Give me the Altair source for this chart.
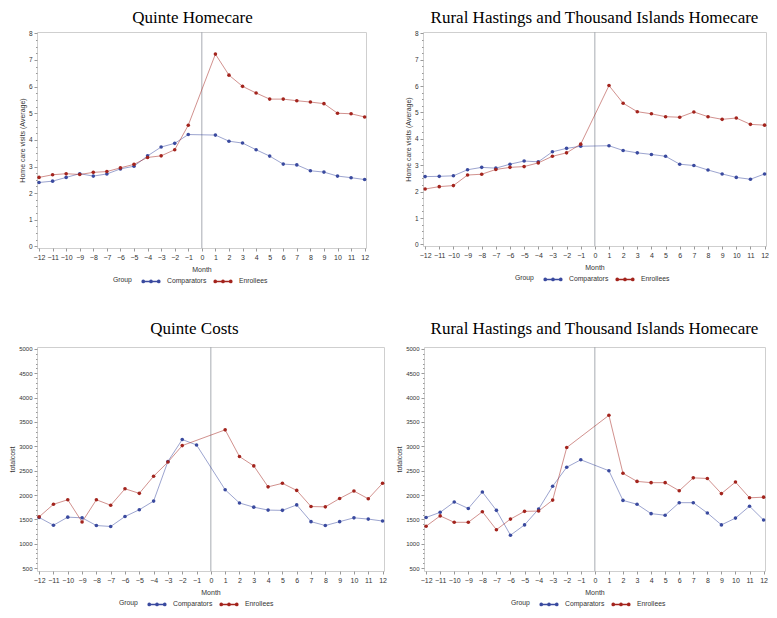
import altair as alt
import pandas as pd

MONTHS = [-12, -11, -10, -9, -8, -7, -6, -5, -4, -3, -2, -1,
          1, 2, 3, 4, 5, 6, 7, 8, 9, 10, 11, 12]
GROUPS = ["Comparators", "Enrollees"]

QH_COMP = [2.40, 2.45, 2.59, 2.73, 2.64, 2.72, 2.91, 3.01, 3.40, 3.73, 3.87, 4.20,
           4.18, 3.95, 3.88, 3.63, 3.39, 3.09, 3.06, 2.84, 2.79, 2.64, 2.58, 2.51]
QH_ENR = [2.59, 2.69, 2.73, 2.70, 2.78, 2.81, 2.95, 3.08, 3.34, 3.40, 3.63, 4.55,
          7.22, 6.43, 6.01, 5.76, 5.53, 5.53, 5.47, 5.42, 5.36, 5.00, 4.98, 4.86]
RH_COMP = [2.57, 2.58, 2.60, 2.83, 2.92, 2.89, 3.04, 3.16, 3.13, 3.51, 3.64, 3.72,
           3.74, 3.56, 3.47, 3.41, 3.34, 3.04, 2.99, 2.82, 2.67, 2.54, 2.47, 2.67]
RH_ENR = [2.10, 2.19, 2.23, 2.63, 2.66, 2.84, 2.92, 2.95, 3.09, 3.34, 3.47, 3.80,
          6.02, 5.35, 5.03, 4.95, 4.84, 4.82, 5.02, 4.84, 4.74, 4.79, 4.55, 4.52]
QC_COMP = [1539, 1380, 1546, 1532, 1374, 1354, 1559, 1698, 1876, 2690, 3140, 3028,
           2108, 1837, 1751, 1691, 1685, 1797, 1453, 1374, 1453, 1532, 1506, 1466]
QC_ENR = [1552, 1810, 1903, 1446, 1903, 1790, 2128, 2035, 2386, 2677, 3015, None,
          3339, 2790, 2598, 2168, 2241, 2095, 1764, 1757, 1929, 2082, 1923, 2241]
RC_COMP = [1539, 1645, 1857, 1724, 2062, 1685, 1175, 1387, 1711, 2181, 2571, 2724,
           2499, 1890, 1810, 1618, 1585, 1843, 1843, 1632, 1387, 1526, 1771, 1486]
RC_ENR = [1360, 1572, 1440, 1440, 1658, 1288, 1506, 1665, 1671, 1896, 2975, None,
          3637, 2446, 2280, 2254, 2254, 2088, 2353, 2340, 2029, 2267, 1943, 1956]

DARK = ["#3a4a9f", "#a3241d"]
FONT = "Liberation Sans"
TITLE_FONT = "Liberation Serif"

# legend symbol: three small stroked dots joined by a line (wide, short path)
r = 0.22
def dot(cx):
    return f"M{cx - r},0a{r},{r} 0 1,0 {2 * r},0a{r},{r} 0 1,0 {-2 * r},0Z"
LEG_PATH = "M-1.55,0L1.55,0" + dot(-1.55) + dot(0) + dot(1.55)


def make_df(comp, enr):
    rows = []
    for g, vals in zip(GROUPS, [comp, enr]):
        for m, v in zip(MONTHS, vals):
            if v is not None:
                rows.append({"Month": m, "value": v, "Group": g, "Series": g})
    return pd.DataFrame(rows)


def panel(title, comp, enr, ytitle, ydom, ystep_major, ystep_minor, ymin, ymax,
          w, h, legx, title_dx, title_off, ytpad, ylabsize):
    df = make_df(comp, enr)
    n = int(round((ymax - ymin) / ystep_minor))
    yvals = [round(ymin + i * ystep_minor, 3) for i in range(n + 1)]
    xs = alt.X("Month:Q", title="Month",
               scale=alt.Scale(domain=[-12.15, 12.1], nice=False, zero=False),
               axis=alt.Axis(values=list(range(-12, 13)), labelFontSize=7,
                             labelOverlap=False, labelFlush=False,
                             tickSize=3, labelPadding=2, titlePadding=5,
                             grid=False, domain=False))
    ys = alt.Y("value:Q", title=ytitle,
               scale=alt.Scale(domain=ydom, nice=False, zero=False),
               axis=alt.Axis(values=yvals, grid=False, domain=False,
                             labelOverlap=False, labelFlush=False,
                             labelExpr=f"abs(datum.value % {ystep_major}) < 0.001 ? '' + datum.value : ''",
                             tickSize={"expr": f"abs(datum.value % {ystep_major}) < 0.001 ? 3 : 1.5"},
                             labelFontSize=ylabsize, labelPadding=2, titlePadding=ytpad))
    leg = alt.Legend(orient="none", legendX=legx, legendY=h + 27,
                     direction="horizontal", titleOrient="left",
                     title="Group", symbolType=LEG_PATH,
                     symbolSize=100, symbolOpacity=1, symbolOffset=4,
                     labelFontSize=6.8, titleFontSize=6.8,
                     titleFontWeight="normal", titlePadding=9,
                     columnPadding=4, labelOffset=10,
                     labelColor="#333", titleColor="#333",
                     labelFont=FONT, titleFont=FONT)
    rule = alt.Chart(pd.DataFrame({"Month": [0]})).mark_rule(
        color="#a7abb2", strokeWidth=1).encode(x=xs)
    base = alt.Chart(df)
    line = base.mark_line(strokeWidth=1, strokeOpacity=0.5).encode(
        x=xs, y=ys,
        color=alt.Color("Group:N", scale=alt.Scale(domain=GROUPS, range=DARK),
                        legend=leg))
    pts = base.mark_circle(size=13, opacity=1).encode(
        x=xs, y=ys,
        fill=alt.Fill("Series:N", scale=alt.Scale(domain=GROUPS, range=DARK),
                      legend=None))
    return alt.layer(rule, line, pts).properties(
        width=w, height=h,
        title=alt.TitleParams(title, font=TITLE_FONT, fontSize=17,
                              fontWeight="normal", color="#000",
                              anchor="middle", frame="group", dx=title_dx,
                              offset=title_off))


p1 = panel("Quinte Homecare", QH_COMP, QH_ENR, "Home care visits (Average)",
           [-0.06, 8.05], 1, 0.25, 0, 8, 329, 216, 76, -9, 3, 3, 6.5)
p2 = panel("Rural Hastings and Thousand Islands Homecare", RH_COMP, RH_ENR,
           "Home care visits (Average)", [-0.06, 8.05], 1, 0.25, 0, 8,
           343, 214, 92, 0, 3, 3, 6.5)
p3 = panel("Quinte Costs", QC_COMP, QC_ENR, "totalcost", [440, 5040], 500, 100,
           500, 5000, 347, 224, 82, -16, 8, 3, 6)
p4 = panel("Rural Hastings and Thousand Islands Homecare", RC_COMP, RC_ENR,
           "totalcost", [440, 5040], 500, 100, 500, 5000, 341, 224, 87, 0, 8, 3, 6)

top = alt.hconcat(p1, p2, spacing=33).resolve_scale(
    color="independent", fill="independent").resolve_legend(color="independent")
bot = alt.hconcat(p3, p4, spacing=8).resolve_scale(
    color="independent", fill="independent").resolve_legend(color="independent")
chart = alt.vconcat(top, bot, spacing=32).resolve_scale(
    color="independent", fill="independent").resolve_legend(
    color="independent").properties(padding=0).configure_view(
    stroke="#cfcfcf", strokeWidth=1).configure_axis(
    labelFont=FONT, titleFont=FONT, labelColor="#333", titleColor="#333",
    tickColor="#999", titleFontSize=7, titleFontWeight="normal")

chart.save("out.html", embed_options={"renderer": "svg", "actions": False})
